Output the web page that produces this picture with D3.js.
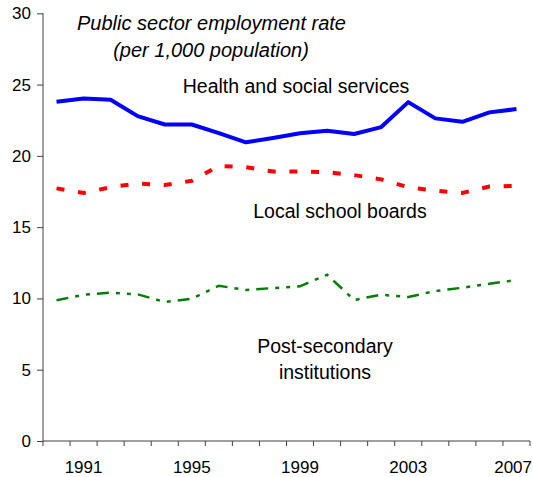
<!DOCTYPE html>
<html>
<head>
<meta charset="utf-8">
<script src="https://cdn.jsdelivr.net/npm/d3@7"></script>
<style>
  html, body { margin: 0; padding: 0; background: #fff; }
  svg { display: block; }
  text { font-family: "Liberation Sans", Arial, sans-serif; fill: #000; }
</style>
</head>
<body>
<svg id="chart" width="533" height="477"></svg>
<script>
const years = [1990,1991,1992,1993,1994,1995,1996,1997,1998,1999,2000,2001,2002,2003,2004,2005,2006,2007];
const yearLabels = [1991, 1995, 1999, 2003, 2007];
const yTicks = [0, 5, 10, 15, 20, 25, 30];

const health = [23.8,24.03,23.93,22.79,22.2,22.2,21.6,20.95,21.25,21.58,21.76,21.53,22.02,23.77,22.63,22.39,23.05,23.28];
const schoolBoards = [17.72,17.4,17.8,18.07,17.95,18.25,19.3,19.2,18.9,18.9,18.85,18.65,18.35,17.8,17.55,17.4,17.85,17.9];
const postSecondary = [9.87,10.26,10.4,10.29,9.75,9.98,10.89,10.59,10.73,10.85,11.67,9.89,10.26,10.1,10.52,10.75,11.03,11.29];

const svg = d3.select("#chart");

const x = d3.scaleBand().domain(years).range([43, 530]).paddingInner(0).paddingOuter(0);
const y = d3.scaleLinear().domain([0, 30]).range([441, 13.3]);
const cx = d => x(d) + x.bandwidth() / 2;

const axisColor = "#404040";

// Y axis
const yAxis = svg.append("g").attr("transform", "translate(43,0)")
  .call(d3.axisLeft(y).tickValues(yTicks).tickSize(6).tickPadding(6).tickFormat(d3.format("d")));
yAxis.select(".domain").attr("stroke", axisColor).attr("d", `M0,${y(30)}V${y(0)}`);
yAxis.selectAll(".tick line").attr("stroke", axisColor);
yAxis.selectAll(".tick text").style("font-size", "17px").attr("font-family", null);

// X axis: ticks at band boundaries, labels centered in bands
const xg = svg.append("g").attr("transform", `translate(0,${y(0)})`);
xg.append("line").attr("x1", 43).attr("x2", 530).attr("y1", 0).attr("y2", 0).attr("stroke", axisColor);
const boundaries = years.map(d => x(d)).concat([x.range()[1]]);
xg.selectAll("line.tk").data(boundaries).enter().append("line")
  .attr("class", "tk")
  .attr("x1", d => d).attr("x2", d => d).attr("y1", 0).attr("y2", 5)
  .attr("stroke", axisColor);
xg.selectAll("text.lbl").data(yearLabels).enter().append("text")
  .attr("class", "lbl")
  .attr("x", d => cx(d)).attr("y", 32)
  .attr("text-anchor", "middle")
  .style("font-size", "17px")
  .text(d => d)
  .each(function(d) {
    const w = this.getComputedTextLength();
    const c = cx(d);
    if (c + w / 2 > 532) d3.select(this).attr("x", 532 - w / 2);
  });

// Lines
const line = vals => d3.line().x((d, i) => cx(years[i])).y(d => y(d))(vals);

svg.append("path").attr("d", line(postSecondary))
  .attr("fill", "none").attr("stroke", "#008000").attr("stroke-width", 2.5)
  .attr("stroke-dasharray", "12,7,4,7,4,7");

svg.append("path").attr("d", line(schoolBoards))
  .attr("fill", "none").attr("stroke", "#FF0000").attr("stroke-width", 4)
  .attr("stroke-dasharray", "8,13.7");

svg.append("path").attr("d", line(health))
  .attr("fill", "none").attr("stroke", "#0000FF").attr("stroke-width", 4)
  .attr("stroke-linejoin", "round");

// Texts
const labels = [
  {t: "Public sector employment rate", x: 211.5, y: 30, italic: true, size: 20},
  {t: "(per 1,000 population)", x: 211, y: 57, italic: true, size: 20},
  {t: "Health and social services", x: 296, y: 93, italic: false, size: 19.5},
  {t: "Local school boards", x: 340, y: 218, italic: false, size: 19.5},
  {t: "Post-secondary", x: 325, y: 353, italic: false, size: 19.5},
  {t: "institutions", x: 325, y: 379, italic: false, size: 19.5}
];
svg.selectAll("text.note").data(labels).enter().append("text")
  .attr("class", "note")
  .attr("x", d => d.x).attr("y", d => d.y)
  .attr("text-anchor", "middle")
  .style("font-size", d => d.size + "px")
  .style("font-style", d => d.italic ? "italic" : "normal")
  .text(d => d.t);
</script>
</body>
</html>
